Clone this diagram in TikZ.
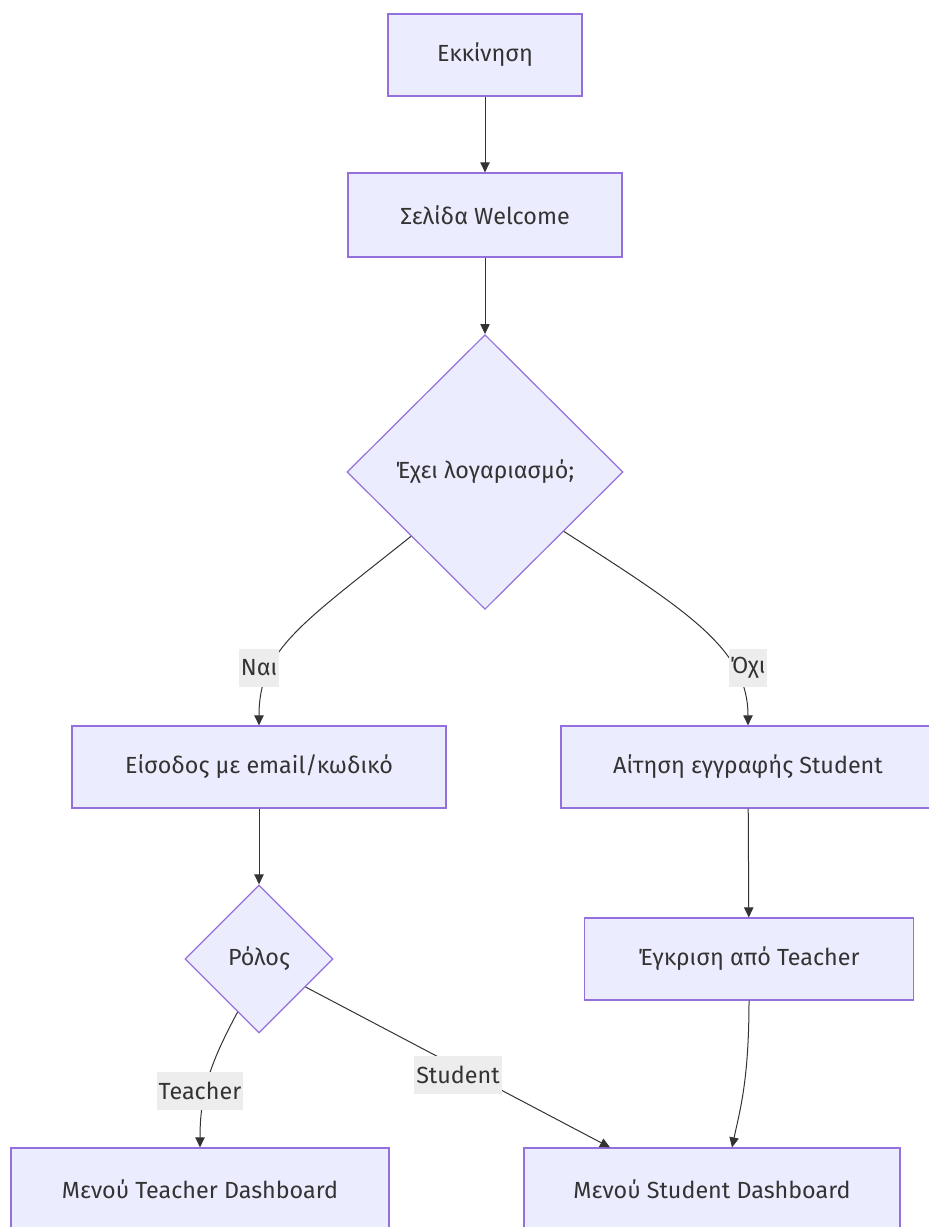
\documentclass[tikz,border=0pt]{standalone}
\usepackage{fontspec}
\setmainfont{Fira Sans}
\usepackage{tikz}
\usetikzlibrary{arrows.meta,shapes.geometric}
\definecolor{nodefill}{HTML}{ECECFF}
\definecolor{nodeline}{HTML}{9370DB}
\definecolor{edgeline}{HTML}{333333}
\definecolor{labelbg}{HTML}{EDEDED}
\definecolor{inktext}{HTML}{333333}

\begin{document}
\begin{tikzpicture}[x=0.75pt, y=-0.75pt, font=\fontsize{17.5}{21}\selectfont,
 box/.style={draw=nodeline, fill=nodefill, line width=0.9pt, text=inktext, minimum height=61.5pt, inner sep=0pt},
 decision/.style={diamond, aspect=1, draw=nodeline, fill=nodefill, line width=0.9pt, text=inktext, inner sep=0pt},
 arr/.style={-{Triangle[length=7.5pt,width=7pt]}, line width=0.75pt, color=edgeline},
 lbl/.style={fill=labelbg, text=inktext, inner xsep=1.5pt, inner ysep=0pt, minimum height=28pt}]
\useasboundingbox (0,0) rectangle (928,1227);
\node[box, minimum width=145.5pt] (start) at (485,55) {Εκκίνηση};
\node[box, minimum width=205.5pt, minimum height=63pt] (welcome) at (485,215) {Σελίδα Welcome};
\node[decision, minimum width=207pt, minimum height=206pt] (account) at (485,472) {Έχει λογαριασμό;};
\node[box, minimum width=280.5pt] (login) at (259,767) {Είσοδος με email/κωδικό};
\node[box, minimum width=280.5pt] (signup) at (748,767) {Αίτηση εγγραφής Student};
\node[decision, minimum width=111pt, minimum height=111pt] (role) at (259,959) {Ρόλος};
\node[box, minimum width=247pt] (approve) at (749,959) {Έγκριση από Teacher};
\node[box, minimum width=283.5pt] (teacherdash) at (200,1189) {Μενού Teacher Dashboard};
\node[box, minimum width=282pt] (studentdash) at (712,1189) {Μενού Student Dashboard};
\draw[arr] (start) -- (welcome);
\draw[arr] (welcome) -- (account);
\draw[arr] (account.221) .. controls (300,625) and (259,650) .. (login.north);
\draw[arr] (account.-37) .. controls (690,612) and (748,650) .. (signup.north);
\draw[arr] (login) -- (role);
\draw[arr] (signup) -- (approve);
\draw[arr] (role.248) .. controls (212,1060) and (200,1090) .. (teacherdash.north);
\draw[arr] (role.-31) -- (studentdash.north -| 610,0);
\draw[arr] (approve.south) .. controls (749,1080) and (740,1110) .. (studentdash.north -| 732,0);
\node[lbl] (yes) at (259,668) {Ναι};
\node[lbl] (no) at (748,668) {Όχι};
\node[lbl] (asteacher) at (200,1091) {Teacher};
\node[lbl] (asstudent) at (458,1075) {Student};
\end{tikzpicture}
\end{document}
